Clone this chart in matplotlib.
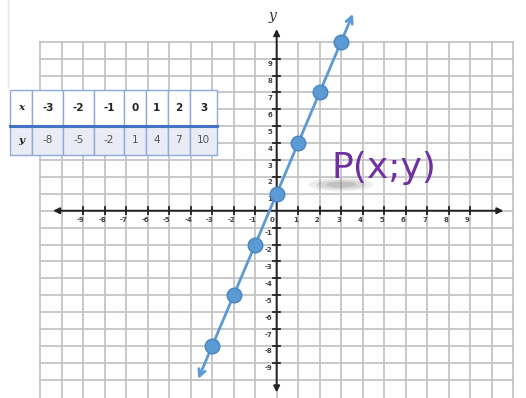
import numpy as np
import matplotlib
matplotlib.use("Agg")
import matplotlib.pyplot as plt
from matplotlib.patches import FancyArrowPatch, Ellipse
from matplotlib.lines import Line2D

# values from the table
x_vals = [-3, -2, -1, 0, 1, 2, 3]
y_vals = [-8, -5, -2, 1, 4, 7, 10]
# ends of the drawn line (arrow tips)
line_end_x = [-3.65, 3.55]
line_end_y = [-9.95, 11.65]
tick_x = [v for v in range(-9, 10) if v != 0]
tick_y = [v for v in range(-9, 10) if v != 0]

BLUE = "#5b9bd5"
GRID = "#c4c4c4"

fig = plt.figure(figsize=(5.26, 3.98), dpi=100)
ax = fig.add_axes([0, 0, 1, 1])
ax.set_xlim(-12.87, 11.6)
ax.set_ylim(-11.08, 12.47)
ax.axis("off")

# grid paper
for gx in range(-11, 12):
    ax.plot([gx, gx], [-11.2, 10], color=GRID, lw=1.3, zorder=1)
for gy in range(-10, 11):
    ax.plot([-11, 11], [gy, gy], color=GRID, lw=1.3, zorder=1)

# faint frame line at left
ax.plot([-12.5, -12.5], [7.3, 12.5], color="#e6e6e6", lw=1, zorder=1)

# axes with arrows
ax.annotate("", xy=(-10.4, 0), xytext=(10.55, 0),
            arrowprops=dict(arrowstyle="<|-|>", color="#222222", lw=1.4,
                            mutation_scale=9, shrinkA=0, shrinkB=0), zorder=3)
ax.annotate("", xy=(0, -10.75), xytext=(0, 10.75),
            arrowprops=dict(arrowstyle="<|-|>", color="#222222", lw=1.4,
                            mutation_scale=9, shrinkA=0, shrinkB=0), zorder=3)

for t in tick_x:
    ax.plot([t, t], [-0.2, 0.2], color="#222222", lw=1.3, zorder=3)
    ax.text(t - 0.12, -0.35, str(t), fontsize=5, color="#404040",
            ha="center", va="top", fontweight="bold", zorder=3)
for t in tick_y:
    ax.plot([-0.17, 0.17], [t, t], color="#222222", lw=1.3, zorder=3)
    ax.text(-0.2, t - 0.15, str(t), fontsize=5, color="#404040",
            ha="right", va="top", fontweight="bold", zorder=3)
ax.text(-0.12, -0.35, "0", fontsize=5, color="#404040", ha="right",
        va="top", fontweight="bold", zorder=3)
ax.text(-0.2, 11.55, "y", fontsize=10, family="DejaVu Serif",
        style="italic", ha="center", va="center", color="#333333")

# the line with open arrow heads
arr = FancyArrowPatch((line_end_x[0], line_end_y[0]), (line_end_x[1], line_end_y[1]),
                      arrowstyle="<->", mutation_scale=12, color=BLUE, lw=2,
                      shrinkA=0, shrinkB=0, zorder=4)
ax.add_patch(arr)
ax.plot(x_vals, y_vals, "o", ms=10.5, color=BLUE, mec="#4a84bd", mew=1, zorder=5)

# label with a soft shadow
for w, h, a in [(3.0, 0.8, 0.14), (2.3, 0.55, 0.2), (1.4, 0.35, 0.25)]:
    ax.add_patch(Ellipse((3.0, 1.55), w, h, color="#808080", alpha=a, lw=0, zorder=3))
ax.text(5.0, 2.5, "P(x;y)", fontsize=26, color="#7030a0", ha="center",
        va="center", family="DejaVu Sans", zorder=6)

# value table
cells = [["x"] + [str(v) for v in x_vals], ["y"] + [str(v) for v in y_vals]]
col_w = [22.3, 31, 30.7, 30.3, 21.4, 22, 22.3, 27.3]
tab = ax.table(cellText=cells, colWidths=col_w, cellLoc="center",
               bbox=[10 / 526, 1 - 155 / 398, 207.3 / 526, 65 / 398], zorder=7)
tab.auto_set_font_size(False)
for (r, c), cell in tab.get_celld().items():
    cell.set_edgecolor("#8eaadb")
    cell.set_linewidth(1.0)
    cell.set_height(35.7 if r == 0 else 29.3)
    cell.set_facecolor("white" if r == 0 else "#e9ebf5")
    txt = cell.get_text()
    txt.set_fontsize(7.5)
    if c == 0:
        txt.set_family("DejaVu Serif")
        txt.set_fontstyle("italic")
        txt.set_fontweight("bold")
        txt.set_color("#222222")
    elif r == 0:
        txt.set_fontweight("bold")
        txt.set_color("#222222")
    else:
        txt.set_color("#555555")

fig.add_artist(Line2D([10 / 526, 217.3 / 526], [1 - 125.7 / 398] * 2,
                      color="#4472c4", lw=2.2, zorder=8))

fig.savefig("out.png", dpi=100)
